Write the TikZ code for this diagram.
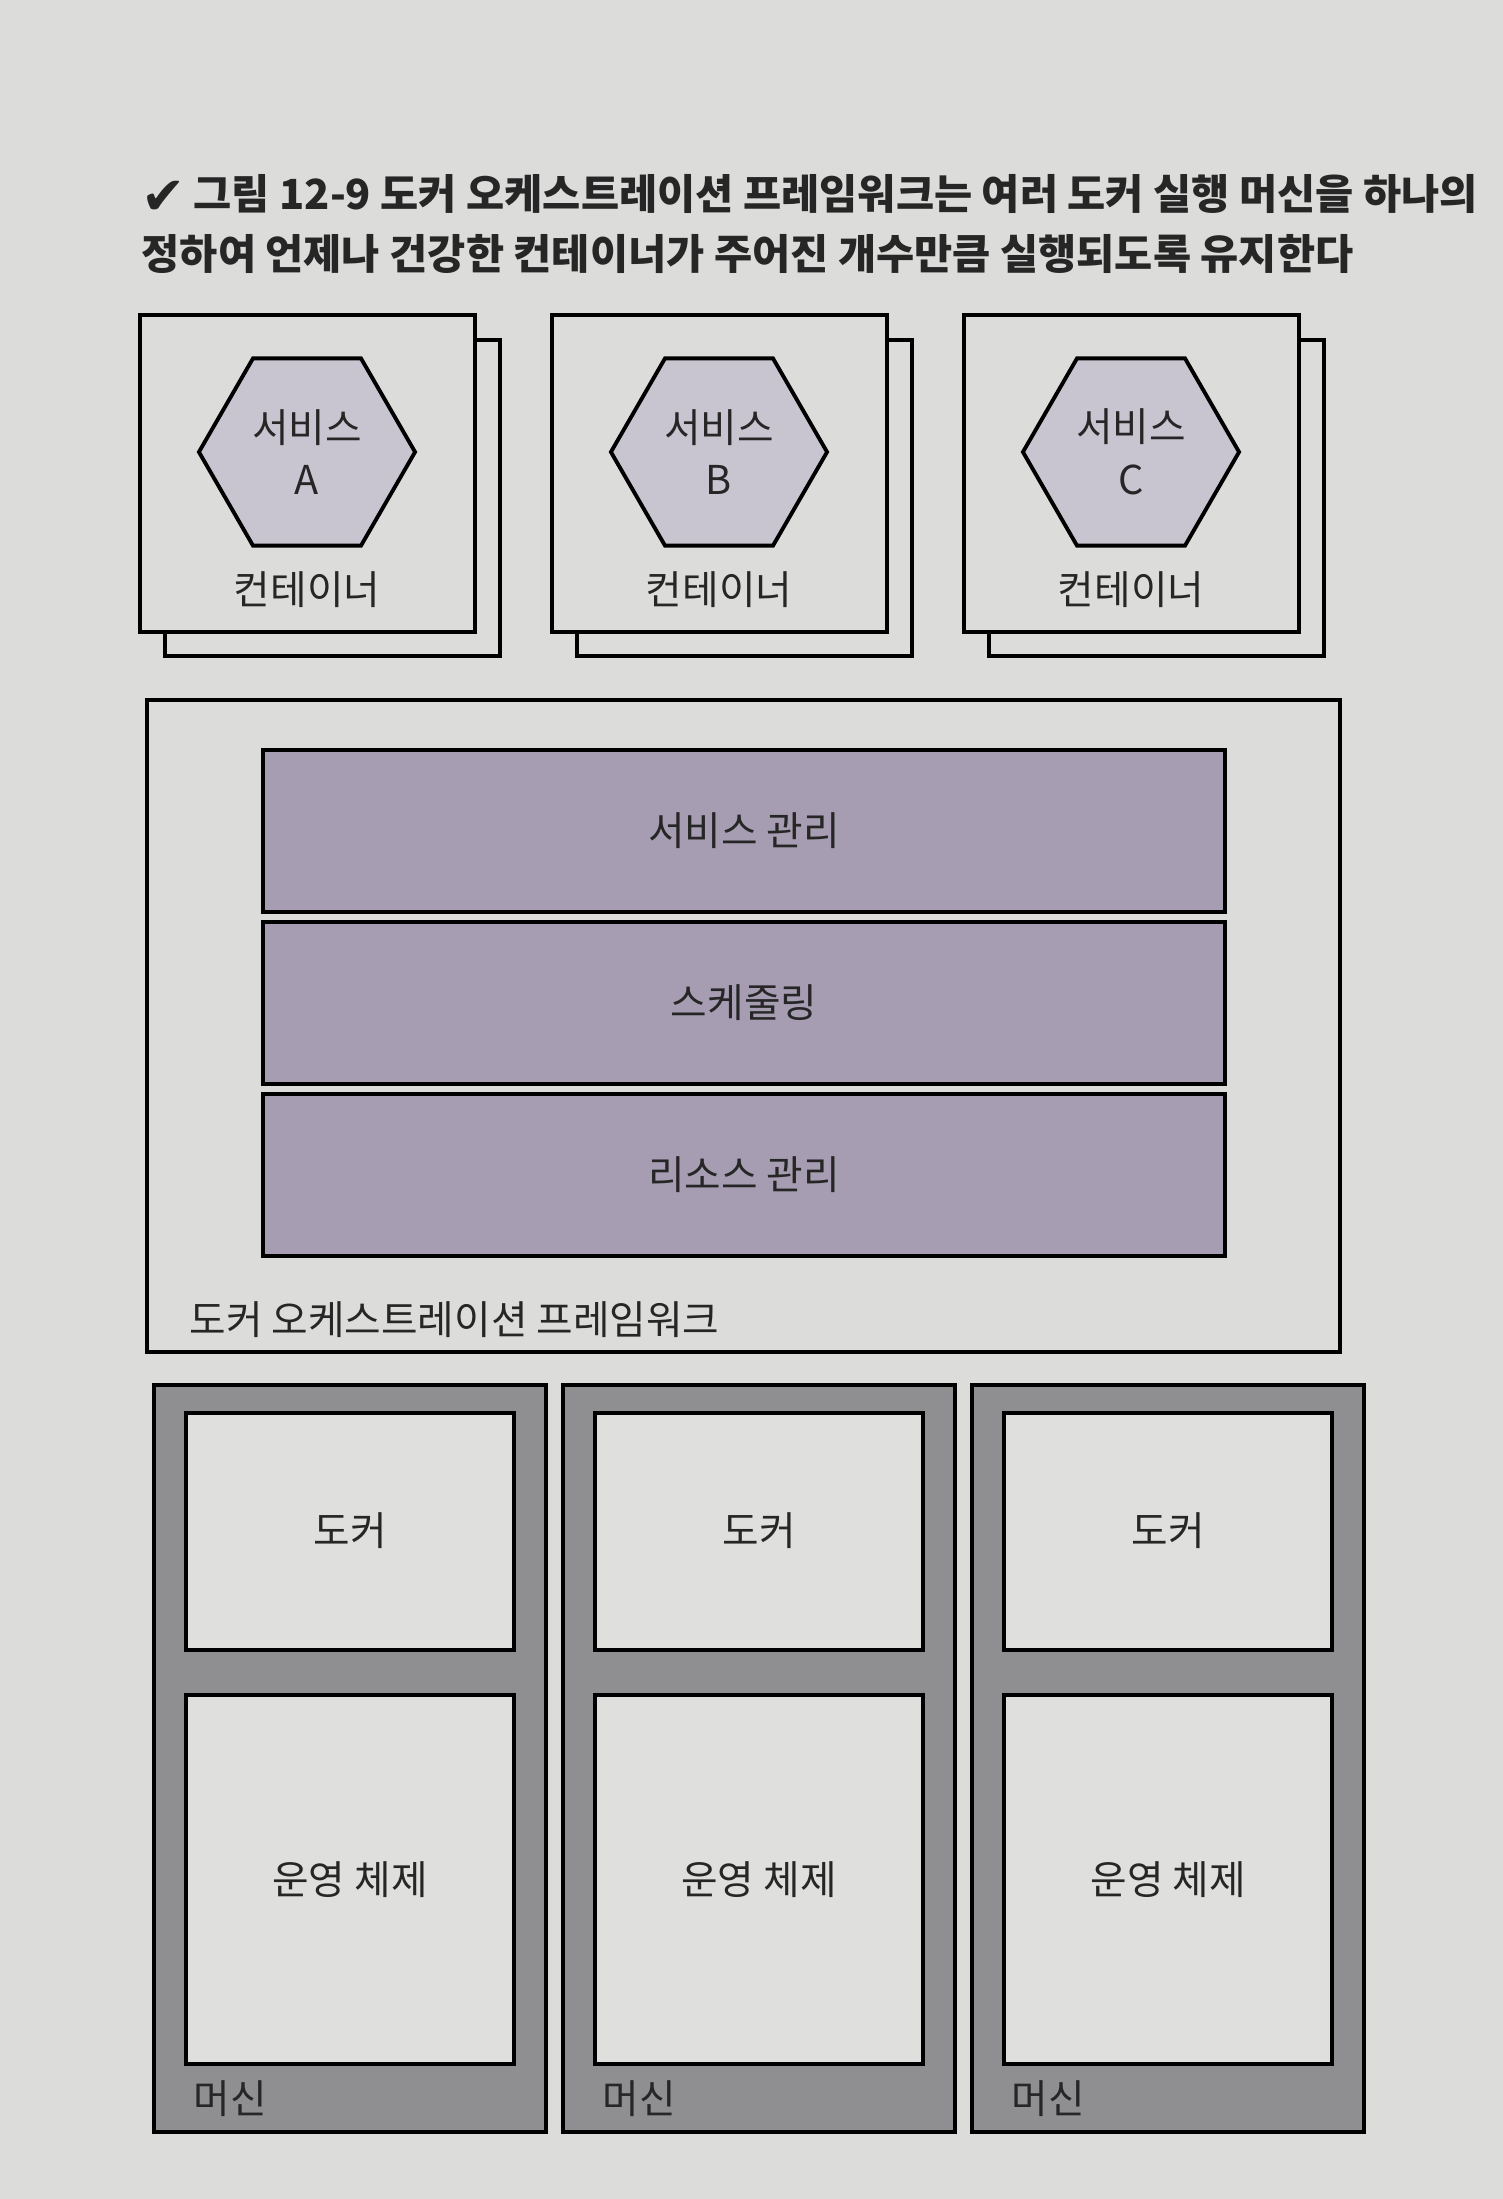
\documentclass[tikz,border=0pt]{standalone}
\usepackage{fontspec}
\newfontfamily\krfont{Noto Sans CJK KR}
\newfontfamily\symfont{DejaVu Sans}
\usetikzlibrary{shapes.geometric}
\definecolor{paper}{HTML}{DCDDDA}
\definecolor{hexfill}{HTML}{C8C4D0}
\definecolor{layerfill}{HTML}{A69DB2}
\definecolor{machinefill}{HTML}{8F8F91}
\definecolor{boxfill}{HTML}{DFE0DD}
\tikzset{
  labeltext/.style={font=\krfont\fontsize{11.3}{15}\selectfont, text=black!85},
  captext/.style={font=\krfont\bfseries\fontsize{11.8}{15}\selectfont, text=black!85, anchor=west},
  hexbox/.style={labeltext, draw, fill=hexfill, regular polygon, regular polygon sides=6,
    minimum size=2.16cm, inner sep=0pt, align=center},
  layerbox/.style={draw, fill=layerfill},
  machinebox/.style={draw, fill=machinefill},
  innerbox/.style={draw, fill=boxfill}
}
\begin{document}
\begin{tikzpicture}[x=0.01cm, y=-0.01cm, line width=1.1pt]
\useasboundingbox (0,0) rectangle (1503,2199);
\fill[paper] (0,0) rectangle (1503,2199);
% caption
\node[font=\symfont\fontsize{15}{17}\selectfont, anchor=west, text=black!85] (chk) at (128,198) {✔};
\node[captext] (capa) at (180,194) {그림 12-9 도커 오케스트레이션 프레임워크는 여러 도커 실행 머신을 하나의};
\node[captext] (capb) at (128,254) {정하여 언제나 건강한 컨테이너가 주어진 개수만큼 실행되도록 유지한다};
% containers
\foreach \x/\n in {140/A, 552/B, 964/C}{
  \draw[fill=paper] ({\x+25},340) rectangle ({\x+360},656);
  \draw[fill=paper] (\x,315) rectangle ({\x+335},632);
  \node[hexbox] (svc\n) at ({\x+167},452) {서비스\\\n};
  \node[labeltext] (ctr\n) at ({\x+167},590) {컨테이너};
}
% framework
\draw[fill=paper] (147,700) rectangle (1340,1352);
\foreach \y/\t/\n in {750/서비스 관리/svcmgmt, 922/스케줄링/sched, 1094/리소스 관리/resmgmt}{
  \draw[layerbox] (263,\y) rectangle (1225,{\y+162});
  \node[labeltext] (\n) at (744,{\y+81}) {\t};
}
\node[labeltext, anchor=base west] (fwlabel) at (176,1334) {도커 오케스트레이션 프레임워크};
% machines
\foreach \x/\n in {154/1, 563/2, 972/3}{
  \draw[machinebox] (\x,1385) rectangle ({\x+392},2132);
  \draw[innerbox] ({\x+32},1413) rectangle ({\x+360},1650);
  \draw[innerbox] ({\x+32},1695) rectangle ({\x+360},2064);
  \node[labeltext] (docker\n) at ({\x+196},1531) {도커};
  \node[labeltext] (os\n) at ({\x+196},1880) {운영 체제};
  \node[labeltext, anchor=west] (mach\n) at ({\x+26},2099) {머신};
}
\end{tikzpicture}
\end{document}
